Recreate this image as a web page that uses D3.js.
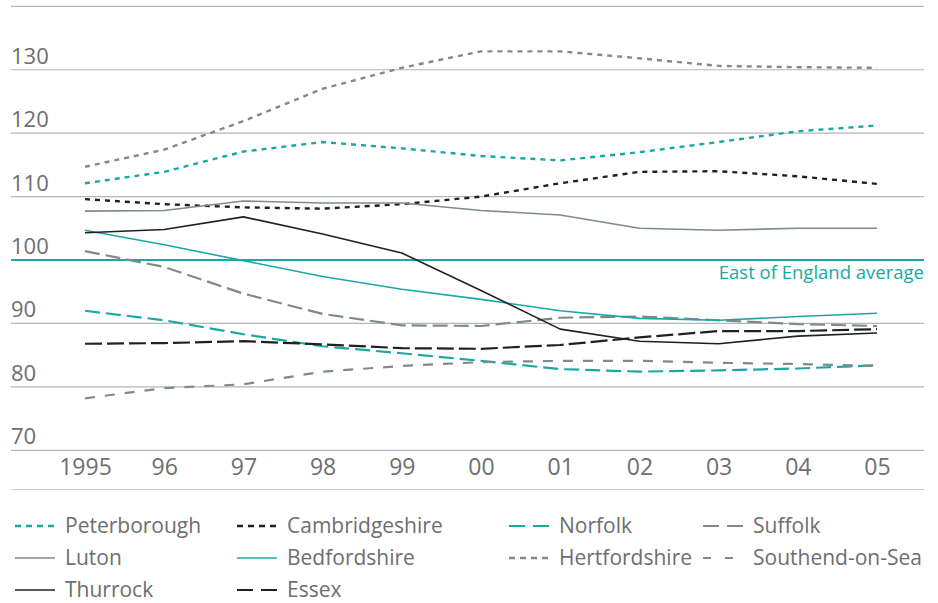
<!DOCTYPE html>
<html><head><meta charset="utf-8">
<script src="https://cdn.jsdelivr.net/npm/d3@7"></script>
<style>body{margin:0;background:#fff}svg{display:block}text{font-family:"Open Sans",sans-serif}</style>
</head><body><svg id="c" width="938" height="603"></svg>
<script>
const years = ["1995","96","97","98","99","00","01","02","03","04","05"];
const yTicks = [70,80,90,100,110,120,130];
const average = 100;
const averageLabel = "East of England average";
const peterborough   = [112.1,113.9,117.1,118.6,117.6,116.4,115.7,117.0,118.6,120.3,121.2];
const cambridgeshire = [109.6,108.8,108.3,108.1,108.8,110.0,112.1,113.9,114.0,113.2,112.0];
const norfolk        = [92.0,90.5,88.3,86.4,85.3,84.1,82.8,82.4,82.6,82.9,83.4];
const suffolk        = [101.4,98.9,94.7,91.5,89.7,89.6,90.9,91.1,90.5,89.9,89.6];
const luton          = [107.7,107.8,109.3,109.0,109.0,107.8,107.1,105.0,104.7,105.0,105.0];
const bedfordshire   = [104.7,102.4,99.9,97.4,95.4,93.8,92.0,90.8,90.5,91.1,91.6];
const hertfordshire  = [114.7,117.4,121.9,127.0,130.3,132.9,132.9,131.8,130.6,130.4,130.3];
const southend       = [78.2,79.8,80.4,82.4,83.3,83.9,84.1,84.1,83.8,83.6,83.3];
const thurrock       = [104.3,104.8,106.8,104.1,101.1,95.2,89.1,87.2,86.8,88.0,88.5];
const essex          = [86.8,86.9,87.2,86.7,86.1,86.0,86.6,87.8,88.8,88.8,89.1];

const TEAL="#1aa8a3", BLACK="#231f20", GREY="#808a8c", TXT="#6d6e71", GRID="#b5b5b5";
const series = [
  {name:"Peterborough",   v:peterborough,   c:TEAL,  d:"5,5", w:2.4},
  {name:"Cambridgeshire", v:cambridgeshire, c:BLACK, d:"5,5", w:2.4},
  {name:"Norfolk",        v:norfolk,        c:TEAL,  d:"15,6", w:2.2},
  {name:"Suffolk",        v:suffolk,        c:GREY,  d:"15,6", w:2.2},
  {name:"Luton",          v:luton,          c:GREY,  d:null, w:1.6},
  {name:"Bedfordshire",   v:bedfordshire,   c:TEAL,  d:null, w:1.6},
  {name:"Hertfordshire",  v:hertfordshire,  c:GREY,  d:"5,5", w:2.4},
  {name:"Southend-on-Sea",v:southend,       c:GREY,  d:"10,10", w:2.2},
  {name:"Thurrock",       v:thurrock,       c:BLACK, d:null, w:1.6},
  {name:"Essex",          v:essex,          c:BLACK, d:"17,5", w:2.2}
];

const svg = d3.select("#c");
const x = d3.scalePoint().domain(years).range([85,877]);
const y = d3.scaleLinear().domain([70,140]).range([450.3,6.3]);
const L=11, R=924;

const gridVals = yTicks.concat([140]).filter(v=>v!==average);
svg.append("g").selectAll("line").data(gridVals).join("line")
  .attr("x1",L).attr("x2",R).attr("y1",d=>y(d)).attr("y2",d=>y(d))
  .attr("stroke",GRID).attr("stroke-width",1.2);
svg.append("line").attr("x1",L).attr("x2",R).attr("y1",489.5).attr("y2",489.5)
  .attr("stroke","#d0d0d0").attr("stroke-width",1.2);

svg.append("g").selectAll("text").data(yTicks).join("text")
  .attr("x",L).attr("y",d=>y(d)-6).attr("font-size",22).attr("fill",TXT).text(d=>d);

const xa = d3.axisBottom(x).tickSize(0).tickPadding(0);
const gx = svg.append("g").attr("transform","translate(0,462)").call(xa);
gx.select(".domain").remove();
gx.selectAll("text").attr("font-size",23).attr("fill",TXT).attr("font-family","Open Sans, sans-serif").attr("dy","0.58em");

svg.append("line").attr("x1",L).attr("x2",R).attr("y1",y(average)).attr("y2",y(average))
  .attr("stroke",TEAL).attr("stroke-width",1.8);
svg.append("text").attr("x",R).attr("y",y(average)+19).attr("text-anchor","end")
  .attr("font-size",18.5).attr("fill",TEAL).text(averageLabel);

const line = d3.line().x((d,i)=>x(years[i])).y(d=>y(d)).curve(d3.curveLinear);
svg.append("g").selectAll("path").data(series).join("path")
  .attr("d",d=>line(d.v)).attr("fill","none").attr("stroke",d=>d.c)
  .attr("stroke-width",d=>d.w).attr("stroke-dasharray",d=>d.d).attr("stroke-linejoin","round");

const colX=[15,237,509,703], rowY=[526,558,590];
const lg = svg.append("g").selectAll("g").data(series).join("g")
  .attr("transform",(d,i)=>`translate(${colX[i%4]},${rowY[Math.floor(i/4)]})`);
lg.append("line").attr("x1",0).attr("x2",40).attr("y1",0).attr("y2",0)
  .attr("stroke",d=>d.c).attr("stroke-width",d=>d.w)
  .attr("stroke-dasharray",d=>d.d? (d.d==="5,5"?"6,5": d.d==="10,10"?"8,14":"16,8"):null);
lg.append("text").attr("x",50).attr("y",7).attr("font-size",21).attr("fill",TXT).text(d=>d.name);
</script></body></html>
